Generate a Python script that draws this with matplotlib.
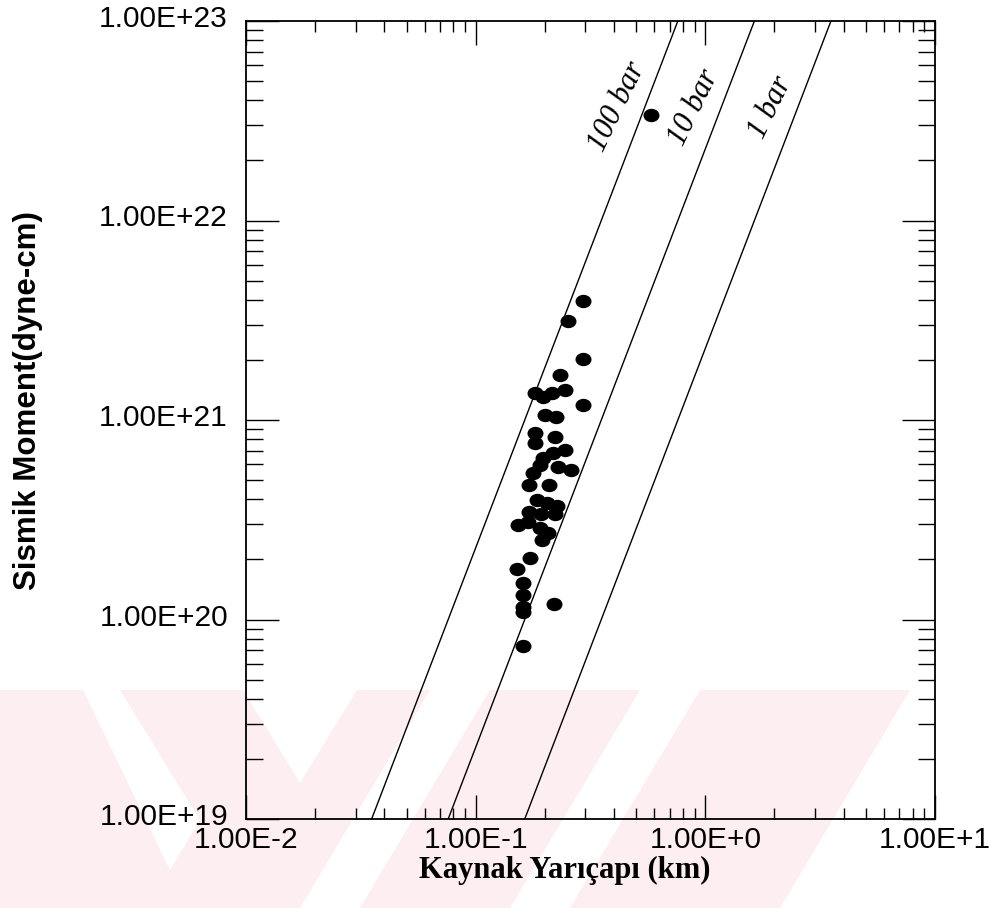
import matplotlib
matplotlib.use("Agg")
import matplotlib.pyplot as plt
import numpy as np
from matplotlib.path import Path
from matplotlib.patches import Polygon
from matplotlib.transforms import Affine2D, ScaledTranslation
from matplotlib.ticker import FixedLocator, FuncFormatter, LogLocator, NullFormatter

# --- source radius (km) and seismic moment (dyne-cm) ---
radius_km = [
    0.580, 0.293, 0.252, 0.293, 0.233, 0.181, 0.196, 0.215, 0.245, 0.293,
    0.200, 0.224, 0.181, 0.221, 0.181, 0.245, 0.217, 0.196, 0.190, 0.228,
    0.260, 0.178, 0.171, 0.208, 0.185, 0.204, 0.226, 0.171, 0.192, 0.221,
    0.153, 0.169, 0.190, 0.206, 0.194, 0.172, 0.151, 0.161, 0.161, 0.161,
    0.161, 0.219, 0.161,
]
moment = [
    3.38e22, 3.95e21, 3.13e21, 2.02e21, 1.68e21, 1.37e21, 1.30e21, 1.37e21, 1.41e21, 1.19e21,
    1.06e21, 1.035e21, 8.61e20, 8.22e20, 7.67e20, 7.07e20, 6.83e20, 6.45e20, 5.95e20, 5.81e20,
    5.62e20, 5.42e20, 4.72e20, 4.72e20, 3.97e20, 3.84e20, 3.71e20, 3.46e20, 3.38e20, 3.38e20,
    2.98e20, 3.08e20, 2.87e20, 2.71e20, 2.50e20, 2.03e20, 1.79e20, 1.52e20, 1.33e20, 1.16e20,
    1.09e20, 1.20e20, 7.37e19,
]

# constant stress-drop lines (bar) and their labels
stress_drops = [100, 10, 1]
stress_labels = ["100 bar", "10 bar", "1 bar"]

x_major = [1e-2, 1e-1, 1e0, 1e1]
y_major = [1e19, 1e20, 1e21, 1e22, 1e23]

W, H = 994, 908
fig = plt.figure(figsize=(W / 100, H / 100), dpi=100)


def px_poly(pts, **kw):
    # polygon given in pixel coords (origin top-left)
    xy = [(x / W, 1 - y / H) for x, y in pts]
    return Polygon(xy, closed=True, transform=fig.transFigure, **kw)


# --- faint watermark in the lower part of the page ---
wm = "#fdeef1"
for pts in [
    [(0, 690), (243, 690), (300, 783), (357, 690), (430, 690), (300, 908), (0, 908)],
    [(490, 690), (640, 690), (510, 908), (360, 908)],
    [(700, 690), (910, 690), (780, 908), (570, 908)],
]:
    fig.patches.append(px_poly(pts, facecolor=wm, edgecolor="none", zorder=-2))
for pts in [
    [(83, 690), (120, 690), (200, 820), (170, 870)],
]:
    fig.patches.append(px_poly(pts, facecolor="white", edgecolor="none", zorder=-1))

ax = fig.add_axes([246 / W, 1 - 819 / H, 689 / W, 798 / H])
ax.set_zorder(1)
ax.set_facecolor("none")
ax.set_xscale("log")
ax.set_yscale("log")
ax.set_xlim(1e-2, 1e1)
ax.set_ylim(1e19, 1e23)

# Brune relation: M0 = 16/7 * dsigma * r^3  (bar -> dyne/cm^2, km -> cm)
r = np.array([1e-2, 1e1])
label_level = 3.7e22
for ds, lab in zip(stress_drops, stress_labels):
    m0 = 16.0 / 7.0 * ds * 1e6 * (r * 1e5) ** 3
    ax.plot(r, m0, color="black", lw=1.0, zorder=2)
    r_lab = (label_level / (16.0 / 7.0 * ds * 1e6)) ** (1 / 3) / 1e5
    ax.annotate(lab, (r_lab, label_level), xytext=(-20, 0), textcoords="offset points",
                rotation=64, ha="center", va="center", fontsize=22,
                family="Liberation Serif", style="italic")

# slightly flattened filled dots
ellipse = Path.unit_circle().transformed(Affine2D().scale(1.0, 0.82))
ax.plot(radius_km, moment, linestyle="none", marker=ellipse, markersize=10.5,
        color="black", zorder=3)

# --- ticks ---
ax.xaxis.set_major_locator(FixedLocator(x_major))
ax.yaxis.set_major_locator(FixedLocator(y_major))
ax.xaxis.set_minor_locator(LogLocator(base=10, subs=np.arange(2, 10)))
ax.yaxis.set_minor_locator(LogLocator(base=10, subs=np.arange(2, 10)))
ax.xaxis.set_minor_formatter(NullFormatter())
ax.yaxis.set_minor_formatter(NullFormatter())
fmt = FuncFormatter(lambda v, pos: f"1.00E{int(round(np.log10(v))):+d}")
ax.xaxis.set_major_formatter(fmt)
ax.yaxis.set_major_formatter(fmt)

ax.tick_params(which="both", direction="in", top=True, right=True, width=1.0,
               colors="black")
ax.tick_params(axis="x", which="major", length=17, pad=5)
ax.tick_params(axis="x", which="minor", length=8)
ax.tick_params(axis="y", which="major", length=24, pad=13)
ax.tick_params(axis="y", which="minor", length=12)
for lab in ax.get_xticklabels() + ax.get_yticklabels():
    lab.set_family("Liberation Sans")
    lab.set_fontsize(21.5)
# y labels sit a little above their ticks
lift = ScaledTranslation(0, 5 / 100, fig.dpi_scale_trans)
for tick in ax.yaxis.get_major_ticks():
    tick.label1.set_transform(tick.label1.get_transform() + lift)
for sp in ax.spines.values():
    sp.set_linewidth(1.3)

fig.text(565 / W, 1 - 878 / H, "Kaynak Yarıçapı (km)", ha="center", va="baseline",
         fontsize=22, family="Liberation Serif", weight="bold")
fig.text(28 / W, 1 - 401 / H, "Sismik Moment(dyne-cm)", ha="center", va="center",
         rotation=90, fontsize=22.5, family="Liberation Sans", weight="bold")

fig.savefig("out.png", dpi=100)
